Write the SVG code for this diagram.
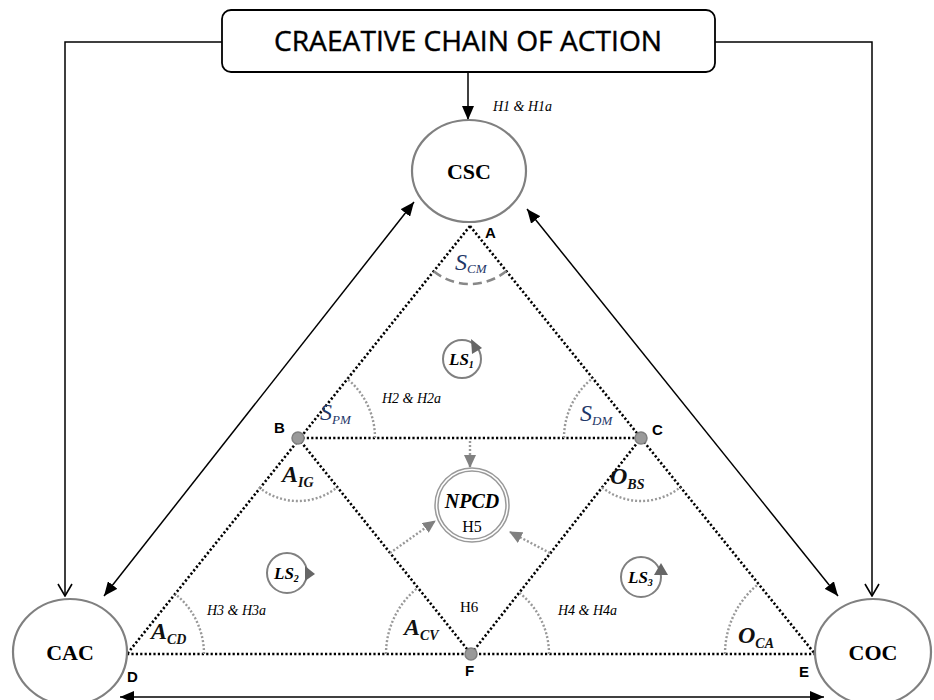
<svg xmlns="http://www.w3.org/2000/svg" width="934" height="700" viewBox="0 0 934 700">
<style>
.node{fill:#fff;stroke:#808080;stroke-width:2.2}
.nt{font-family:"Liberation Serif",serif;font-weight:bold;font-size:22px;fill:#000;text-anchor:middle}
.pt{font-family:"Liberation Sans",sans-serif;font-weight:bold;font-size:15px;fill:#000}
.dot{fill:none;stroke:#000;stroke-width:2.6;stroke-dasharray:2.2 2.2}
.arc{fill:none;stroke:#999;stroke-width:2.4;stroke-dasharray:2 2}
.garr{fill:none;stroke:#999;stroke-width:2.4;stroke-dasharray:2 2;marker-end:url(#ag)}
.sol{fill:none;stroke:#000;stroke-width:1.5}
.h{font-family:"Liberation Serif",serif;font-style:italic;font-size:14px;fill:#000}
.sv{font-family:"Liberation Serif",serif;font-style:italic;font-size:24px;fill:#1f3768}
.svs{font-family:"Liberation Serif",serif;font-size:13px;fill:#1f3768}
.big{font-family:"Liberation Serif",serif;font-style:italic;font-weight:bold;font-size:24px;fill:#111}
.bigs{font-family:"Liberation Serif",serif;font-style:italic;font-weight:bold;font-size:14px;fill:#111}
.ls{fill:#fff;stroke:#808080;stroke-width:2}
.lst{font-family:"Liberation Serif",serif;font-style:italic;font-weight:bold;font-size:17px;fill:#000}
.lss{font-family:"Liberation Serif",serif;font-size:10px;fill:#000}
.tri{fill:#666}
.gpt{fill:#9a9a9a;stroke:#808080;stroke-width:1.5}
</style>
<defs>
<marker id="af" markerUnits="userSpaceOnUse" markerWidth="14" markerHeight="12" refX="14" refY="6" orient="auto-start-reverse"><path d="M0,0 L14,6 L0,12 z" fill="#000"/></marker>
<marker id="ao" markerUnits="userSpaceOnUse" markerWidth="14" markerHeight="16" refX="13" refY="8" orient="auto"><path d="M1,1 L13,8 L1,15" fill="none" stroke="#000" stroke-width="1.6"/></marker>
<marker id="ag" markerUnits="userSpaceOnUse" markerWidth="13" markerHeight="12" refX="12" refY="6" orient="auto"><path d="M0,0 L13,6 L0,12 z" fill="#808080"/></marker>
</defs>

<g id="connectors">
<path class="sol" d="M222,42 H65 V596" marker-end="url(#ao)"/>
<path class="sol" d="M715,42 H872 V596" marker-end="url(#ao)"/>
<path class="sol" d="M468,72 V120" marker-end="url(#af)"/>
<path class="sol" d="M414,202 L104,596" marker-start="url(#af)" marker-end="url(#af)"/>
<path class="sol" d="M527,209 L838,596" marker-start="url(#af)" marker-end="url(#af)"/>
<path class="sol" d="M120,697 H824" marker-start="url(#af)" marker-end="url(#af)"/>

<path class="dot" d="M470,226 L127,654"/>
<path class="dot" d="M470,226 L815,654"/>
<path class="dot" d="M298,438 H641"/>
<path class="dot" d="M298,438 L471,654 L641,438"/>
<path class="dot" d="M127,654 H815"/>

<path fill="none" stroke="#888" stroke-width="2.6" stroke-dasharray="9 5" d="M433.7,271.3 A58,58 0 0 0 506.4,271.1"/>
<path class="arc" d="M375,438 A77,77 0 0 0 346.5,378.2"/>
<path class="arc" d="M564,438 A77,77 0 0 1 592.6,378.1"/>
<path class="arc" d="M258.9,487.4 A63,63 0 0 0 337.4,487.2"/>
<path class="arc" d="M602.1,487.5 A63,63 0 0 0 680.5,487.1"/>
<path class="arc" d="M204,654 A77,77 0 0 0 175.1,593.9"/>
<path class="arc" d="M386,654 A85,85 0 0 1 417.9,587.6"/>
<path class="arc" d="M549,654 A78,78 0 0 0 519.2,592.7"/>
<path class="arc" d="M725,654 A90,90 0 0 1 758.5,583.9"/>

<path class="garr" d="M470,441 V467"/>
<path class="garr" d="M390,553 L435,521"/>
<path class="garr" d="M550,553 L510,532"/>
</g>

<g id="title">
<rect x="222" y="10" width="493" height="62" rx="9" fill="#fff" stroke="#000" stroke-width="1.8"/>
<text x="468" y="51" font-family="Open Sans, Liberation Sans, sans-serif" font-size="28" fill="#000" stroke="#000" stroke-width="0.4" text-anchor="middle" textLength="388" lengthAdjust="spacingAndGlyphs">CRAEATIVE CHAIN OF ACTION</text>
</g>

<g id="CSC">
<ellipse class="node" cx="469" cy="171" rx="57" ry="51"/>
<text class="nt" x="469" y="179">CSC</text>
</g>
<g id="CAC">
<ellipse class="node" cx="70" cy="652" rx="57" ry="53"/>
<text class="nt" x="70" y="660">CAC</text>
</g>
<g id="COC">
<ellipse class="node" cx="873" cy="652" rx="58" ry="53"/>
<text class="nt" x="873" y="660">COC</text>
</g>

<g id="NPCD">
<circle cx="472" cy="505" r="37" fill="#fff" stroke="#999" stroke-width="1.5"/>
<circle cx="472" cy="505" r="34" fill="none" stroke="#999" stroke-width="1.5"/>
<text x="472" y="508" text-anchor="middle" font-family="Liberation Serif, serif" font-style="italic" font-weight="bold" font-size="20">NPCD</text>
<text x="472" y="532" text-anchor="middle" font-family="Liberation Serif, serif" font-size="16">H5</text>
</g>

<g id="LS1">
<circle class="ls" cx="462" cy="359" r="19"/>
<polygon class="tri" points="471,339 482,348 472,354"/>
<text class="lst" x="449" y="365">LS<tspan class="lss" dy="3">1</tspan></text>
</g>
<g id="LS2">
<circle class="ls" cx="287" cy="573" r="20"/>
<polygon class="tri" points="305,566 315,574 305,581"/>
<text class="lst" x="274" y="579">LS<tspan class="lss" dy="3">2</tspan></text>
</g>
<g id="LS3">
<circle class="ls" cx="641" cy="577" r="20"/>
<polygon class="tri" points="654,575 661,563 668,575"/>
<text class="lst" x="628" y="583">LS<tspan class="lss" dy="3">3</tspan></text>
</g>

<g id="points">
<circle class="gpt" cx="298" cy="438" r="6"/>
<circle class="gpt" cx="641" cy="438" r="6"/>
<circle class="gpt" cx="471" cy="654" r="6"/>
<text class="pt" x="485" y="238">A</text>
<text class="pt" x="274" y="433">B</text>
<text class="pt" x="652" y="435">C</text>
<text class="pt" x="127" y="682">D</text>
<text class="pt" x="799" y="677">E</text>
<text class="pt" x="465" y="676">F</text>
</g>

<g id="labels">
<text class="h" x="493" y="111" font-size="17">H1 &amp; H1a</text>
<text class="h" x="382" y="403">H2 &amp; H2a</text>
<text class="h" x="207" y="615">H3 &amp; H3a</text>
<text class="h" x="558" y="615">H4 &amp; H4a</text>
<text x="460" y="612" font-family="Liberation Serif, serif" font-size="15">H6</text>
<text class="sv" x="455" y="270">S<tspan class="svs" dy="3">CM</tspan></text>
<text class="sv" x="320" y="420">S<tspan class="svs" dy="4" font-style="italic">PM</tspan></text>
<text class="sv" x="580" y="421">S<tspan class="svs" dy="4" font-style="italic">DM</tspan></text>
<text class="big" x="282" y="482">A<tspan class="bigs" dy="5">IG</tspan></text>
<text class="big" x="610" y="484">O<tspan class="bigs" dy="5">BS</tspan></text>
<text class="big" x="151" y="639">A<tspan class="bigs" dy="5">CD</tspan></text>
<text class="big" x="404" y="635">A<tspan class="bigs" dy="5">CV</tspan></text>
<text class="big" x="738" y="643">O<tspan class="bigs" dy="5">CA</tspan></text>
</g>
</svg>
